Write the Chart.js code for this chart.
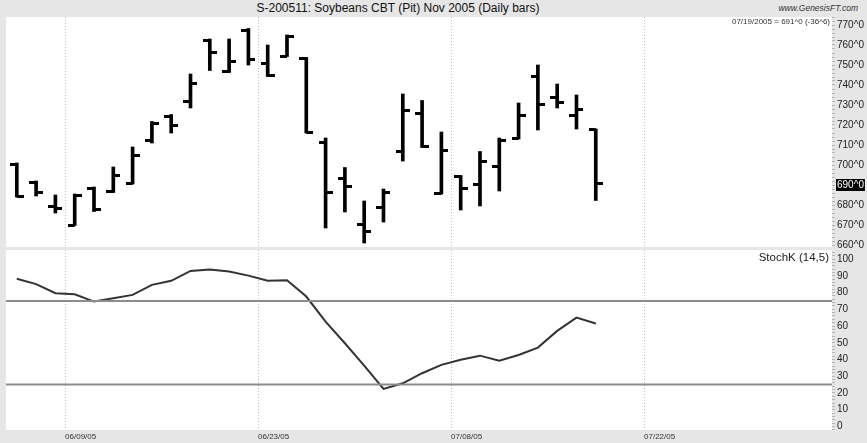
<!DOCTYPE html>
<html>
<head>
<meta charset="utf-8">
<script src="https://cdn.jsdelivr.net/npm/chart.js@4.4.0/dist/chart.umd.min.js"></script>
<style>
  html, body { margin: 0; padding: 0; background: #e6e6e6; }
  #wrap { position: relative; width: 867px; height: 443px; overflow: hidden; font-family: "Liberation Sans", Arial, sans-serif; }
  #title { position: absolute; left: 0; top: 0; width: 796px; height: 17px; line-height: 17px; text-align: center; font-size: 12px; color: #111; }
  #site { position: absolute; right: 9px; top: 3px; font-size: 8.5px; font-style: italic; color: #333; }
  #last { position: absolute; right: 37px; top: 17px; font-size: 8px; color: #333; }
  #stochLabel { position: absolute; right: 38px; top: 251px; font-size: 11.5px; color: #222; }
  canvas { position: absolute; left: 0; }
  #price { top: 17px; }
  #stoch { top: 250px; }
</style>
</head>
<body>
<div id="wrap">
  <div id="title">S-200511: Soybeans CBT (Pit) Nov 2005 (Daily bars)</div>
  <div id="site">www.GenesisFT.com</div>
  <canvas id="stoch" width="867" height="193"></canvas>
  <canvas id="price" width="867" height="233"></canvas>
  <div id="last"></div>
  <div id="stochLabel">StochK (14,5)</div>
</div>
<script>
// trading days, 06/06/2005 .. 07/19/2005
const dates = ['06/06', '06/07', '06/08', '06/09', '06/10', '06/13', '06/14', '06/15', '06/16', '06/17',
  '06/20', '06/21', '06/22', '06/23', '06/24', '06/27', '06/28', '06/29', '06/30', '07/01',
  '07/05', '07/06', '07/07', '07/08', '07/11', '07/12', '07/13', '07/14', '07/15', '07/18', '07/19'];

// cents per bushel
const opens = [700.5, 691.5, 679.5, 670, 688.5, 686.75, 691, 712.25, 724.25, 731.75,
  762.25, 746.75, 767.5, 750.75, 754.5, 753.5, 711.5, 693.5, 670.5, 678.75,
  706.75, 726, 686, 694.25, 690.5, 699.25, 713.5, 744.5, 733.75, 724.75, 718];
const highs = [701, 692, 685, 685.5, 689, 699, 709, 721.75, 725.25, 745.5,
  763, 763, 768.25, 760, 765, 753.75, 713.5, 698.75, 682, 688,
  735.5, 732.25, 716.5, 694.75, 706.75, 713.5, 731, 750, 740.5, 735, 718];
const lows = [684, 684.5, 676, 669.75, 676.75, 686.25, 690.5, 711, 716, 728.5,
  747.25, 746.25, 750, 744.25, 754.25, 716, 668.5, 676.5, 661, 671.5,
  702, 708.75, 685.5, 677.5, 679.5, 687, 713, 717.5, 728.5, 718, 682.25];
const closes = [684.25, 686.25, 678.5, 684.75, 678, 695, 705, 721, 720, 741,
  756.25, 751.75, 752.75, 745, 764.5, 716.5, 686.25, 689.25, 666.75, 686.25,
  727.5, 709.25, 707.5, 688.5, 701.75, 712.5, 724.75, 730.5, 731.25, 727.75, 691];

// StochK (14,5)
const stochK = [88.2, 85, 79.6, 79, 74.6, 76.6, 78.6, 84.6, 87, 92.9,
  93.7, 92.5, 90.1, 87, 87.4, 77.6, 62.6, 49.7, 36.3, 22.4,
  25.8, 31.8, 36.8, 39.8, 42.3, 39.3, 42.7, 47.1, 57.1, 65, 61.5];
const stochLevels = [75, 25];

// date grid lines (trading-day index of the labelled date)
const xTickDays = [3, 13, 23, 33];
const xTickLabels = ['06/09/05', '06/23/05', '07/08/05', '07/22/05'];

const FONT = '"Liberation Sans", Arial, sans-serif';
const xMin = -0.56;
const xMax = 42.24;

// price as cents^eighths
const fmt = (v) => {
  const sign = v < 0 ? '-' : '';
  const a = Math.abs(v);
  const whole = Math.floor(a + 1e-9);
  return `${sign}${whole}^${Math.round((a - whole) * 8)}`;
};

const last = closes.length - 1;
document.getElementById('last').textContent =
  `${dates[last]}/2005 = ${fmt(closes[last])} (${fmt(closes[last] - closes[last - 1])})`;
const markedTick = Math.round(closes[last] / 10) * 10;

// open tick on the left, close tick on the right
const tickImage = (side) => {
  const c = document.createElement('canvas');
  c.width = 14;
  c.height = 3;
  const g = c.getContext('2d');
  g.fillStyle = '#000';
  g.fillRect(side === 'left' ? 0 : 7, 0, 7, 3);
  return c;
};

const whiteArea = {
  id: 'whiteArea',
  beforeDraw: (chart) => {
    const { ctx, chartArea: a } = chart;
    ctx.save();
    ctx.fillStyle = '#fff';
    ctx.fillRect(a.left, a.top, a.right - a.left, a.bottom - a.top);
    ctx.restore();
  }
};

const xScale = (showLabels) => ({
  type: 'linear',
  min: xMin,
  max: xMax,
  offset: false,
  afterBuildTicks: (s) => {
    s.ticks = xTickDays.map((d) => ({ value: d - 0.5 }));
  },
  afterFit: (s) => {
    s.height = showLabels ? 13 : 0;
    s.paddingLeft = 0;
    s.paddingRight = 0;
  },
  grid: { color: '#bdbdbd', lineWidth: 1, drawTicks: false, offset: false },
  border: { display: false, dash: [1, 2] },
  ticks: {
    display: showLabels,
    autoSkip: false,
    maxRotation: 0,
    align: 'start',
    padding: 2,
    color: '#333',
    font: { size: 8, family: FONT },
    callback: (v, i) => xTickLabels[i]
  }
});

const yScale = (min, max, label) => ({
  position: 'right',
  min,
  max,
  afterFit: (s) => {
    s.width = 35;
    s.paddingTop = 0;
    s.paddingBottom = 0;
  },
  grid: { drawOnChartArea: false, tickLength: 3, color: '#b5b5b5' },
  border: { display: false },
  ticks: {
    stepSize: 2,
    autoSkip: false,
    includeBounds: false,
    padding: 2,
    font: { size: 10, family: FONT },
    color: '#222',
    callback: label
  }
});

const baseOptions = (bottom) => ({
  responsive: false,
  animation: false,
  devicePixelRatio: 1,
  layout: { autoPadding: false, padding: { left: 6, right: 0, top: 0, bottom } },
  plugins: { legend: { display: false }, tooltip: { enabled: false } }
});

const idx = closes.map((c, i) => i);

const priceY = yScale(659, 774, (v) => (v % 10 === 0 ? `${v}^0` : ''));
priceY.ticks.color = (ctx) => (ctx.tick && ctx.tick.value === markedTick ? '#fff' : '#222');
priceY.ticks.showLabelBackdrop = (ctx) => !!ctx.tick && ctx.tick.value === markedTick;
priceY.ticks.backdropColor = '#000';
priceY.ticks.backdropPadding = { x: 1, y: 0 };

new Chart(document.getElementById('price'), {
  type: 'line',
  data: {
    datasets: [
      {
        type: 'bar',
        data: idx.map((i) => ({ x: i, y: [lows[i], highs[i]] })),
        backgroundColor: '#000',
        borderWidth: 0,
        barThickness: 3
      },
      {
        data: idx.map((i) => ({ x: i, y: opens[i] })),
        showLine: false,
        pointStyle: tickImage('left'),
        pointRadius: 3
      },
      {
        data: idx.map((i) => ({ x: i, y: closes[i] })),
        showLine: false,
        pointStyle: tickImage('right'),
        pointRadius: 3
      }
    ]
  },
  options: {
    ...baseOptions(3),
    scales: { x: xScale(false), y: priceY }
  },
  plugins: [whiteArea]
});

new Chart(document.getElementById('stoch'), {
  type: 'line',
  data: {
    datasets: [
      ...stochLevels.map((lvl) => ({
        data: [{ x: xMin, y: lvl }, { x: xMax, y: lvl }],
        borderColor: '#8c8c8c',
        borderWidth: 2,
        pointRadius: 0
      })),
      {
        data: idx.map((i) => ({ x: i, y: stochK[i] })),
        borderColor: '#333',
        borderWidth: 2,
        pointRadius: 0,
        tension: 0
      }
    ]
  },
  options: {
    ...baseOptions(0),
    scales: { x: xScale(true), y: yScale(-2.1, 105.4, (v) => (v % 10 === 0 ? `${v}` : '')) }
  },
  plugins: [whiteArea]
});
</script>
</body>
</html>
